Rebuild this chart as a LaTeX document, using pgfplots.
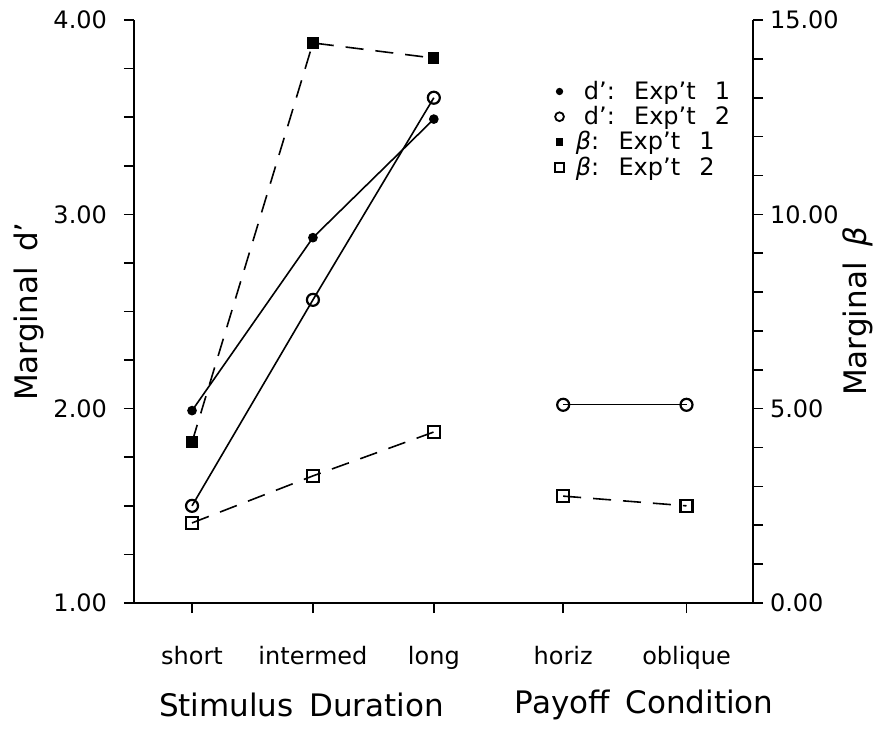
\documentclass[border=0pt]{standalone}
\usepackage{fontspec}
\setmainfont{DejaVu Sans}
\usepackage{pgfplots}
\pgfplotsset{compat=1.18}

\newcommand{\tickfont}{\fontsize{12}{14}\selectfont}
\newcommand{\labfont}{\fontsize{15.5}{18}\selectfont}

\pgfplotsset{
  common/.style={
    scale only axis, width=309.5pt, height=291.5pt,
    xmin=0.52, xmax=5.64, clip=false,
    tick align=outside, major tick length=5pt, minor tick length=5pt,
    tick style={line width=0.8pt, black},
    axis line style={-, line width=1pt},
    ticklabel style={font=\tickfont},
    /pgf/number format/assume math mode=true,
    yticklabel style={/pgf/number format/.cd, fixed, fixed zerofill, precision=2, /tikz/.cd},
  },
  dash/.style={line width=0.8pt, dash pattern=on 9pt off 6pt},
}

\begin{document}
\begin{tikzpicture}
\path[use as bounding box] (-67pt,-63.5pt) rectangle (372.5pt,301.5pt);

% left axis: marginal d'
\begin{axis}[common,
  ymin=1, ymax=4,
  axis x line*=bottom, axis y line*=left,
  xtick={1,2,3,4.07,5.09},
  xticklabels={short,intermed,long,horiz,oblique},
  xticklabel style={yshift=-13pt},
  ytick={1,2,3,4}, minor y tick num=3,
  yticklabel style={xshift=-5pt},
]
\addplot[line width=0.8pt, mark=*, mark size=2pt] coordinates {(1,1.99) (2,2.88) (3,3.49)};
\addplot[line width=0.8pt, mark=o, mark size=3pt, mark options={fill=white, line width=1.1pt}] coordinates {(1,1.50) (2,2.56) (3,3.60)};
\addplot[line width=0.6pt, mark=o, mark size=3pt, mark options={fill=white, line width=1.1pt}] coordinates {(4.07,2.02) (5.09,2.02)};

\node[font=\labfont] at ([yshift=-51pt]axis cs:1.905,1) {Stimulus\hspace{0.5em}Duration};
\node[font=\labfont] at ([yshift=-51pt]axis cs:4.74,1) {Payoff\hspace{0.5em}Condition};
\node[font=\labfont, rotate=90] at ([xshift=-52.5pt]rel axis cs:0,0.5) {Marginal\hspace{0.5em}d'};
\end{axis}

% right axis: marginal beta
\begin{axis}[common,
  ymin=0, ymax=15,
  axis x line*=bottom, axis y line*=right,
  xtick=\empty,
  ytick={0,5,10,15}, minor y tick num=4,
  legend style={draw=none, fill=none, at={(rel axis cs:0.67,0.91)}, anchor=north west,
    font=\tickfont, row sep=-2pt, cells={anchor=west},
    /tikz/every odd column/.append style={column sep=8pt}},
  legend image code/.code={\draw[#1] plot coordinates {(0.1cm,0cm)};},
]
\addlegendimage{only marks, mark=*, mark size=1.6pt}
\addlegendentry{d':\hspace{0.8em}Exp't\hspace{0.8em}1}
\addlegendimage{only marks, mark=o, mark size=2.2pt, mark options={line width=0.9pt}}
\addlegendentry{d':\hspace{0.8em}Exp't\hspace{0.8em}2}
\addlegendimage{only marks, mark=square*, mark size=1.6pt}
\addlegendentry{\hspace{-4pt}\textit{β}:\hspace{0.8em}Exp't\hspace{0.8em}1}
\addlegendimage{only marks, mark=square, mark size=2.2pt, mark options={line width=0.9pt}}
\addlegendentry{\hspace{-4pt}\textit{β}:\hspace{0.8em}Exp't\hspace{0.8em}2}

\addplot[dash, mark=square*, mark size=2.4pt, mark options={solid}, forget plot] coordinates {(1,4.14) (2,14.41) (3,14.02)};
\addplot[dash, mark=square, mark size=3pt, mark options={solid, fill=white, line width=1.1pt}, forget plot] coordinates {(1,2.06) (2,3.27) (3,4.40)};
\addplot[dash, mark=square, mark size=3pt, mark options={solid, fill=white, line width=1.1pt}, forget plot] coordinates {(4.07,2.75) (5.09,2.50)};

\node[font=\labfont, rotate=90] at ([xshift=52.5pt]rel axis cs:1,0.5) {Marginal\hspace{0.5em}\textit{β}};
\end{axis}
\end{tikzpicture}
\end{document}
